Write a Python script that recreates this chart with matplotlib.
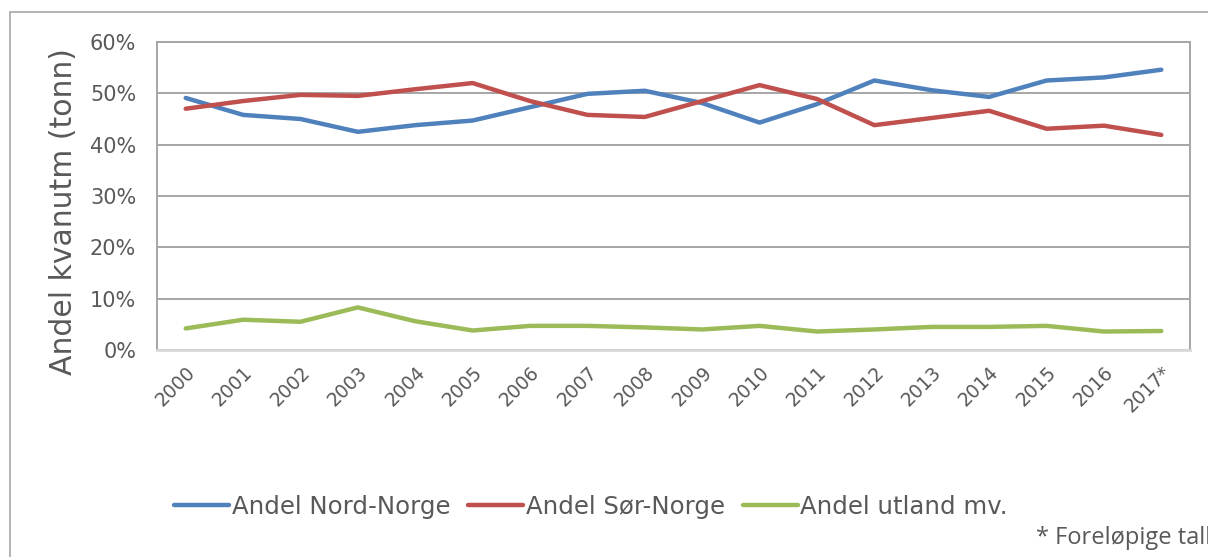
import matplotlib
matplotlib.use("Agg")
import matplotlib.pyplot as plt
import matplotlib.patches as patches
from matplotlib.ticker import FuncFormatter

years = ["2000", "2001", "2002", "2003", "2004", "2005", "2006", "2007", "2008",
         "2009", "2010", "2011", "2012", "2013", "2014", "2015", "2016", "2017*"]
nord = [49.1, 45.8, 45.0, 42.5, 43.8, 44.7, 47.3, 49.9, 50.5,
        48.1, 44.3, 47.9, 52.5, 50.6, 49.3, 52.5, 53.1, 54.6]
sor = [47.0, 48.5, 49.7, 49.5, 50.8, 52.0, 48.5, 45.8, 45.4,
       48.5, 51.6, 48.9, 43.8, 45.2, 46.6, 43.1, 43.7, 41.9]
utland = [4.2, 5.9, 5.5, 8.3, 5.6, 3.8, 4.7, 4.7, 4.4,
          4.0, 4.7, 3.6, 4.0, 4.5, 4.5, 4.7, 3.6, 3.7]
labels = ["Andel Nord-Norge", "Andel Sør-Norge", "Andel utland mv."]
colors = ["#4F81BD", "#C0504D", "#9BBB59"]

text_col = "#595959"
grid_col = "#A6A6A6"

plt.rcParams['font.family'] = ['DejaVu Sans']

fig = plt.figure(figsize=(12.08, 5.57), dpi=100)
ax = fig.add_axes([157 / 1208, 1 - 350 / 557, (1190 - 157) / 1208, (350 - 42) / 557])

x = list(range(len(years)))
for vals, lab, col in zip([nord, sor, utland], labels, colors):
    ax.plot(x, vals, color=col, linewidth=3.2, label=lab, solid_capstyle="round")

ax.set_xlim(-0.5, len(years) - 0.5)
ax.set_ylim(0, 60)
ax.set_yticks(range(0, 61, 10))
ax.yaxis.set_major_formatter(FuncFormatter(lambda v, p: f"{v:.0f}%"))
ax.set_xticks(x)
ax.set_xticklabels(years, rotation=45, ha="right", rotation_mode="anchor")
ax.tick_params(axis="both", length=0, colors=text_col)
ax.tick_params(axis="y", labelsize=15, pad=15)
ax.tick_params(axis="x", labelsize=13.5, pad=9)

ax.grid(axis="y", color=grid_col, linewidth=1.4)
ax.set_axisbelow(True)
for side in ["left", "right", "top"]:
    ax.spines[side].set_color(grid_col)
    ax.spines[side].set_linewidth(1.4)
ax.spines["bottom"].set_color("#D9D9D9")
ax.spines["bottom"].set_linewidth(2)

ax.set_ylabel("Andel kvanutm (tonn)", fontsize=21.5, color=text_col)
ax.yaxis.set_label_coords(-0.076, 0.448)

leg = fig.legend(loc="center left", bbox_to_anchor=(152 / 1208, 1 - 507 / 557),
                 ncol=3, frameon=False, handlelength=2.25, handletextpad=0.12,
                 columnspacing=0.72, prop={"size": 17.6})
for t in leg.get_texts():
    t.set_color(text_col)

fig.text(1036 / 1208, 1 - 538 / 557, "* Foreløpige tall", fontsize=17,
         family="Open Sans", color=text_col, va="center", ha="left")

# outer chart border (runs off the picture on the right and bottom)
border = patches.Rectangle((10 / 1208, -0.1), 1.2, 1 - 12 / 557 + 0.1,
                           transform=fig.transFigure, fill=False,
                           edgecolor="#A6A6A6", linewidth=1.2)
fig.patches.append(border)

fig.savefig("out.png", dpi=100)
